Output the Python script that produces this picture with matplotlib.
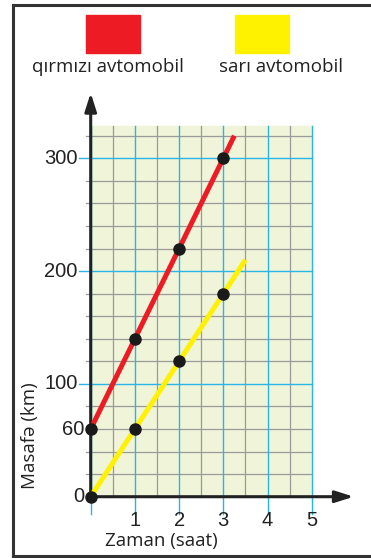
import matplotlib.pyplot as plt
from matplotlib.patches import Rectangle

hours = [0, 1, 2, 3]
red_km = [60, 140, 220, 300]
yellow_km = [0, 60, 120, 180]
red_end = (3.25, 320)
yellow_end = (3.5, 210)
x_ticks = [1, 2, 3, 4, 5]
y_ticks = [0, 60, 100, 200, 300]
labels = ["qırmızı avtomobil", "sarı avtomobil"]

RED = "#ED1C24"
YELLOW = "#FFF200"
BG = "#F0F4D8"
BLUE = "#29B6E6"
GRAY = "#9A9A9A"

W, H = 371, 558
fig = plt.figure(figsize=(W / 100, H / 100), dpi=100)

# pixel calibration of the chart area
x0px, xpx = 90.7, 44.2
y0px, ypx = 496.7, 1.128
L, R, T, B = 40, 371, 80, 535
ax = fig.add_axes([L / W, 1 - B / H, (R - L) / W, (B - T) / H])
ax.set_xlim((L - x0px) / xpx, (R - x0px) / xpx)
ax.set_ylim((y0px - B) / ypx, (y0px - T) / ypx)
ax.axis("off")

top = 329
ax.add_patch(Rectangle((0, 0), 5, top, color=BG, zorder=0))
for x in [0.5, 1.5, 2.5, 3.5, 4.5]:
    ax.plot([x, x], [0, top], color=GRAY, lw=0.9, zorder=1)
for y in range(20, 330, 20):
    if y % 100:
        ax.plot([-0.1, 5], [y, y], color=GRAY, lw=0.9, zorder=1)
for x in range(0, 6):
    ax.plot([x, x], [-15, top], color=BLUE, lw=1.0, zorder=2)
for y in [100, 200, 300]:
    ax.plot([-0.26, 5], [y, y], color=BLUE, lw=1.0, zorder=2)

# axes with arrows
ax.annotate("", xy=(5.95, 0), xytext=(0, 0),
            arrowprops=dict(arrowstyle="-|>,head_length=1.1,head_width=0.35",
                            color="#222222", lw=2.2, shrinkA=0, shrinkB=0), zorder=3)
ax.annotate("", xy=(0, 358), xytext=(0, 0),
            arrowprops=dict(arrowstyle="-|>,head_length=1.1,head_width=0.35",
                            color="#222222", lw=2.2, shrinkA=0, shrinkB=0), zorder=3)

ax.plot(hours + [red_end[0]], red_km + [red_end[1]], color=RED, lw=3.6,
        solid_capstyle="butt", zorder=4)
ax.plot(hours + [yellow_end[0]], yellow_km + [yellow_end[1]], color=YELLOW, lw=3.6,
        solid_capstyle="butt", zorder=4)
ax.plot(hours, red_km, "o", color="#1a1a1a", ms=8, zorder=5)
ax.plot(hours, yellow_km, "o", color="#1a1a1a", ms=8, zorder=5)

num_font = dict(family="Liberation Sans", fontsize=14.5, color="#222222")
for x in x_ticks:
    ax.text(x, -21, str(x), ha="center", va="center", **num_font)
for y in y_ticks:
    ax.text(-0.3 if y >= 100 else -0.14, y, str(y), ha="right", va="center", **num_font)

lab_font = dict(family="Open Sans", fontsize=13.5, color="#222222")
ax.text(1.6, -39, "Zaman (saat)", ha="center", va="center", **lab_font)
fig.text(30 / W, 1 - 436 / H, "Masafə (km)", rotation=90, ha="center", va="center",
         **lab_font)

# legend
for cx, col in zip([113, 262], [RED, YELLOW]):
    fig.patches.append(Rectangle(((cx - 27) / W, 1 - 53 / H), 54 / W, 38 / H,
                                 transform=fig.transFigure, color=col))
for cx, lab in zip([108, 281], labels):
    fig.text(cx / W, 1 - 67 / H, lab, ha="center", va="center", **lab_font)

# frame
fig.add_artist(plt.Line2D([13 / W, 13 / W], [1 - 5 / H, 1 - 556 / H], color="#333333", lw=2.2))
fig.add_artist(plt.Line2D([13 / W, 1], [1 - 5 / H, 1 - 5 / H], color="#333333", lw=2.2))
fig.add_artist(plt.Line2D([13 / W, 1], [1 - 556 / H, 1 - 556 / H], color="#333333", lw=2.2))

fig.savefig("out.png", dpi=100)
